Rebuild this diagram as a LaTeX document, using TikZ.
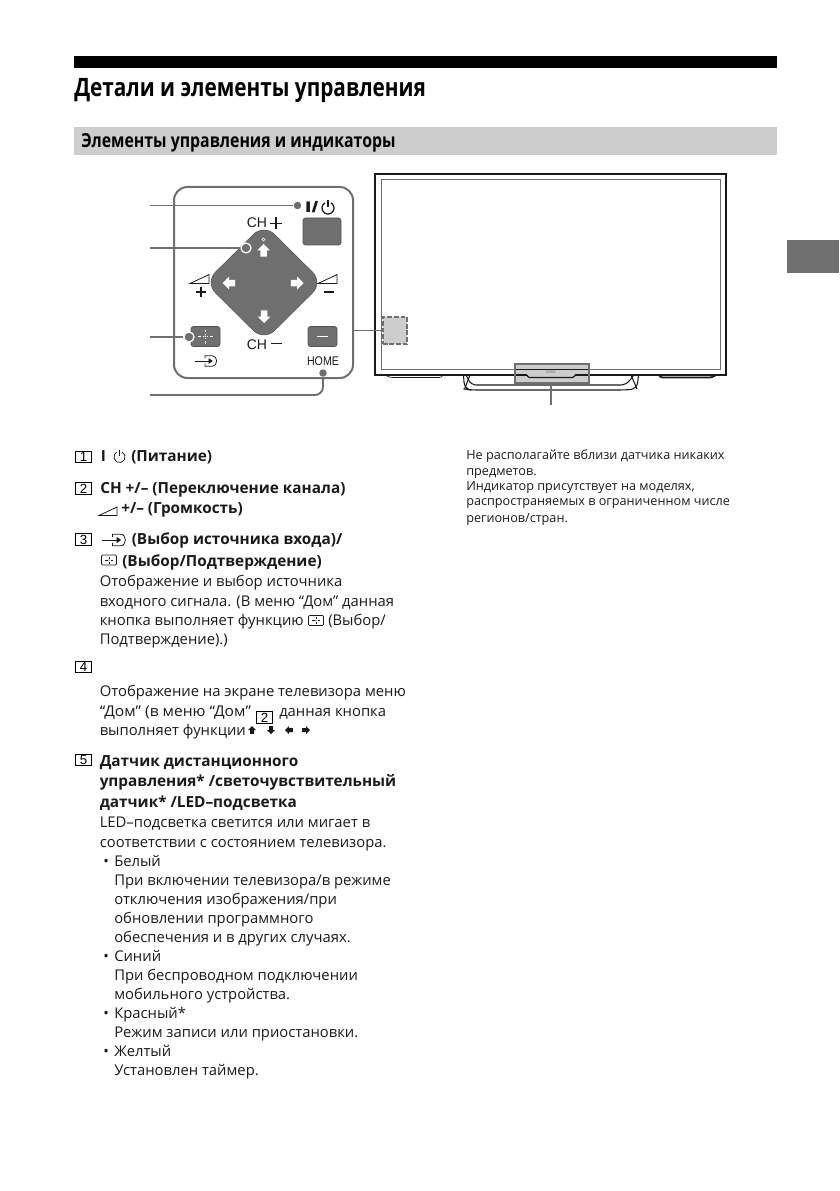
\documentclass[tikz,border=0pt]{standalone}
\usepackage{fontspec}
\usepackage{graphicx}
\setmainfont{Open Sans}
\newfontfamily\titlef[FakeStretch=0.82]{Open Sans}
\newfontfamily\secf[FakeStretch=0.82]{Open Sans}
\newfontfamily\lab{Liberation Sans}
\definecolor{pg}{HTML}{6F6F6F}
\definecolor{lg}{HTML}{CDCDCD}
\definecolor{ink}{HTML}{1A1A1A}
\tikzset{
  txt/.style={inner sep=0pt,anchor=base west,text=ink,font=\fontsize{11.1}{12}\selectfont},
  btxt/.style={txt,font=\fontsize{11.5}{12}\selectfont\bfseries},
  note/.style={txt,font=\fontsize{9.5}{11}\selectfont},
  numbox/.style={draw=black,line width=.8pt,minimum width=15.5*.75pt,minimum height=11.5*.75pt,inner sep=0pt,font=\lab\fontsize{10}{10}\selectfont,text=black},
  lead/.style={draw=pg,line width=1.4pt},
  dot/.style={circle,fill=pg,inner sep=0pt,minimum size=7.5*.75pt},
  ringdot/.style={circle,fill=pg,draw=white,line width=.9pt,inner sep=0pt,minimum size=10*.75pt},
  gbtn/.style={draw=ink!75,fill=pg,line width=.6pt,rounded corners=2pt,inner sep=0pt},
  lbl/.style={inner sep=0pt,font=\lab\fontsize{10.2}{11}\selectfont,text=ink},
}
\newcommand\T[5][txt]{\node[#1] (#2) at (#3,#4) {#5};}
% x, y, direction dx, direction dy, half size, colour
\newcommand\fatarrow[6]{\fill[#6] ({#1+#5*(#3)},{#2+#5*(#4)}) -- ({#1-#5*(#4)},{#2+#5*(#3)}) -- ({#1-.5*#5*(#4)},{#2+.5*#5*(#3)}) -- ({#1-.5*#5*(#4)-.95*#5*(#3)},{#2+.5*#5*(#3)-.95*#5*(#4)}) -- ({#1+.5*#5*(#4)-.95*#5*(#3)},{#2-.5*#5*(#3)-.95*#5*(#4)}) -- ({#1+.5*#5*(#4)},{#2-.5*#5*(#3)}) -- ({#1+#5*(#4)},{#2-#5*(#3)}) -- cycle;}
\newcommand\powericon[4]{\draw[ink,line width=#4,shift={(#1,#2)}] (.5*#3,-.866*#3) arc[start angle=60,end angle=-240,radius=#3*.75pt]; \draw[ink,line width=#4,shift={(#1,#2)}] (0,-1.3*#3) -- (0,-.1*#3);}
\newcommand\inputicon[3]{\begin{scope}[shift={(#1,#2)},scale=#3,ink,line width=.6pt]
  \draw (-3.5,-2.5) -- (-3.5,-5) -- (3.5,-5) .. controls (9,-5) and (9,5) .. (3.5,5) -- (-3.5,5) -- (-3.5,2.5);
  \draw (-13,0) -- (1,0);
  \fill (4,0) -- (0,-2.8) -- (0,2.8) -- cycle;
\end{scope}}
\newcommand\plusicon[2]{\begin{scope}[shift={(#1,#2)}]
  \draw[ink,line width=.5pt,rounded corners=.8pt] (-7.5,-5) rectangle (7.5,5);
  \draw[ink,line width=.45pt] (-4,0) -- (-1.5,0) (1.5,0) -- (4,0) (0,-3.5) -- (0,-1.5) (0,1.5) -- (0,3.5);
  \fill[ink] (0,0) circle[radius=.7*.75pt];
\end{scope}}
\newcommand\volicon[4]{\draw[#4,line width=.6pt] (#1,#2) -- ++(#3,-.47*#3) -- ++(0,.47*#3) -- cycle;}
\begin{document}
\begin{tikzpicture}[x=.75pt,y=-.75pt]
\useasboundingbox (0,0) rectangle (839,1191);
% page furniture
\fill[black] (74,56) rectangle (777,68);
\fill[lg] (74,127) rectangle (777,155);
\fill[pg] (787,240) rectangle (839,273);
\T[txt,font=\titlef\fontsize{19}{20}\selectfont\bfseries,text=black]{title}{74}{96.5}{Детали и элементы управления}
\T[txt,font=\secf\fontsize{14.5}{15}\selectfont\bfseries,text=black]{section}{81}{147.5}{Элементы управления и индикаторы}

% TV
\draw[ink,line width=1.3pt] (375,174) rectangle (726,375);
\draw[pg,line width=.8pt] (381.3,179.3) rectangle (720.7,369.3);
\draw[ink,line width=.8pt,rounded corners=5pt] (463.5,375) -- (464.5,389) -- (470,390) -- (625,390) -- (637,389) -- (638.5,375);
\draw[ink,line width=.8pt,rounded corners=4pt] (466,375) -- (471,385) -- (626,385) -- (634,375);
\draw[ink,line width=.8pt] (470,375) -- (464.5,389) (631,375) -- (637,389);
\draw[ink,line width=1.3pt,rounded corners=2pt] (659,375) -- (660,377.5) -- (712,377.5) -- (716,375);
\draw[ink,line width=.5pt,rounded corners=2pt] (385,375) -- (390,377.5) -- (442,377.5) -- (443,375);
\node[draw=pg,fill=lg,line width=1.6pt,minimum width=74*.75pt,minimum height=19*.75pt,inner sep=0pt] (logobox) at (552,373.5) {};
\draw[ink,line width=.8pt] (516,369.3) -- (588,369.3) (516,375) -- (527,375) (575,375) -- (588,375);
\draw[ink,line width=.9pt,rounded corners=1pt] (527,375) -- (528,377.5) -- (574,377.5) -- (575,375);
\node[inner sep=0pt,font=\lab\fontsize{2.6}{3}\selectfont\bfseries,text=black!50] (sony) at (551,372.7) {SONY};
\coordinate (logoend) at (551,405);
\draw[lead] (logobox.south -| logoend) -- (logoend);

\node[draw=pg,dashed,dash pattern=on 3.6pt off 1.4pt,fill=lg,line width=1.6pt,minimum width=24.5*.75pt,minimum height=27*.75pt,inner sep=0pt] (sensor) at (395,330.5) {};

% control panel
\node[draw=pg,line width=1.5pt,rounded corners=10pt,minimum width=179*.75pt,minimum height=191*.75pt,inner sep=0pt] (panel) at (263.5,282.5) {};
\draw[lead] (panel.east |- sensor.west) -- (sensor.west);

% power
\node[lbl,font=\lab\fontsize{11.5}{12}\selectfont\bfseries,anchor=base west] (powerlabel) at (304.5,213) {\scalebox{1.6}[1]{I/}};
\powericon{328}{208}{6}{.95pt}
\node[gbtn,minimum width=38*.75pt,minimum height=27*.75pt] (powerbtn) at (322,231.5) {};

% D-pad
\fill[pg,draw=ink!75,line width=.4pt,rounded corners=11pt] (264,224) -- (323,282.5) -- (264,341) -- (205,282.5) -- cycle;
\node[lbl,anchor=base west,font=\lab\fontsize{10.5}{11}\selectfont] (chp) at (246.5,228) {CH};
\node[lbl,anchor=base west,font=\lab\fontsize{10.5}{11}\selectfont] (chm) at (246.5,349) {CH};
\draw[ink,line width=1.1pt] (270,223.5) -- (282,223.5) (276,217.5) -- (276,229.5);
\draw[ink,line width=1.1pt] (271,343.7) -- (282,343.7);
\draw[white,line width=.4pt] (263.5,239.5) circle[radius=1.5*.75pt];
\fatarrow{263.5}{250.5}{0}{-1}{6.5}{white}
\fatarrow{264}{316.5}{0}{1}{6.5}{white}
\fatarrow{229}{283}{-1}{0}{6.5}{white}
\fatarrow{297}{283}{1}{0}{6.5}{white}
\volicon{190}{283.5}{19}{ink}
\volicon{318}{283.5}{19}{ink}
\draw[ink,line width=1.1pt] (196,292) -- (206,292) (201,287) -- (201,297);
\draw[ink,line width=1.1pt] (324,292) -- (334,292);

% buttons
\node[gbtn,minimum width=29*.75pt,minimum height=20*.75pt] (selbtn) at (205.5,336.5) {};
\draw[white,line width=.55pt] (198,336.5) -- (201,336.5) (203,336.5) -- (204,336.5) (207,336.5) -- (208,336.5) (210,336.5) -- (213,336.5) (205.5,329.5) -- (205.5,332) (205.5,334) -- (205.5,335) (205.5,338) -- (205.5,339) (205.5,341) -- (205.5,343.5);
\fill[white] (205.5,336.5) circle[radius=.9*.75pt];
\node[gbtn,minimum width=29*.75pt,minimum height=20*.75pt] (homebtn) at (322.5,336.5) {};
\draw[white,line width=.5pt] (317,336.5) -- (328,336.5);
\inputicon{208.6}{361}{1.05}
\node[lbl,font=\lab\fontsize{9.4}{10}\selectfont] (home) at (323,361.5) {\scalebox{.85}[1]{HOME}};

% leaders
\coordinate (a1) at (150,205.5);
\coordinate (a2) at (150,248);
\coordinate (a3) at (150,337);
\coordinate (a4) at (150,395);
\node[dot] (d1) at (297.5,205.5) {};
\node[ringdot] (d2) at (246,248) {};
\node[ringdot] (d3) at (189,337) {};
\node[dot] (d4) at (323,373) {};
\draw[lead] (a1) -- (d1);
\draw[lead] (a2) -- (d2.west);
\draw[lead] (a3) -- (d3.west);
\draw[lead,rounded corners=6pt] (a4) -- (d4 |- a4) -- (d4);

% item 1
\node[numbox] (n1) at (83.5,457.2) {1};
\node[btxt] (i1a) at (100.5,461) {I};
\powericon{119.5}{457}{5.6}{.55pt}
\T[btxt]{i1b}{131}{461}{(Питание)}
% item 2
\node[numbox] (n2) at (83.5,488.7) {2};
\T[btxt]{i2a}{100}{493}{CH +/– (Переключение канала)}
\volicon{99}{515.5}{18}{ink}
\T[btxt]{i2b}{121}{513}{+/– (Громкость)}
% item 3
\node[numbox] (n3) at (83.5,539.7) {3};
\inputicon{116.6}{540}{1.15}
\T[btxt]{i3a}{131.5}{544}{(Выбор источника входа)/}
\plusicon{109}{560}
\T[btxt]{i3b}{122}{566}{(Выбор/Подтверждение)}
\T{i3c}{99.5}{586.5}{Отображение и выбор источника}
\T{i3d}{99.5}{606}{входного сигнала. (В меню “Дом” данная}
\T{i3e}{99.5}{625}{кнопка выполняет функцию}
\plusicon{316}{620.5}
\T{i3f}{328}{625}{(Выбор/}
\T{i3g}{99.5}{644.5}{Подтверждение).)}
% item 4
\node[numbox] (n4) at (83.5,667.2) {4};
\T{i4a}{99.5}{696.5}{Отображение на экране телевизора меню}
\T{i4b}{99.5}{716}{\scalebox{1.05}[1]{“Дом” (в меню “Дом”}}
\node[numbox] (n2b) at (264.5,717.5) {2};
\T{i4c}{279}{716}{данная кнопка}
\T{i4d}{99.5}{735.5}{выполняет функции}
\fatarrow{252}{730}{0}{-1}{4}{ink}
\fatarrow{271}{730}{0}{1}{4}{ink}
\fatarrow{289}{730}{-1}{0}{4}{ink}
\fatarrow{306}{730}{1}{0}{4}{ink}
% item 5
\node[numbox] (n5) at (83.5,760) {5};
\T[btxt]{i5a}{99.5}{766}{Датчик дистанционного}
\T[btxt]{i5b}{99.5}{786}{управления* /светочувствительный}
\T[btxt]{i5c}{99.5}{807}{датчик* /LED–подсветка}
\T{i5d}{99.5}{827}{LED–подсветка светится или мигает в}
\T{i5e}{99.5}{847}{соответствии с состоянием телевизора.}
\T{b1}{103}{866}{•}
\T{i5f}{114}{866}{Белый}
\T{i5g}{114}{885}{При включении телевизора/в режиме}
\T{i5h}{114}{904}{отключения изображения/при}
\T{i5i}{114}{923}{обновлении программного}
\T{i5j}{114}{942}{обеспечения и в других случаях.}
\T{b2}{103}{961}{•}
\T{i5k}{114}{961}{Синий}
\T{i5l}{114}{980}{При беспроводном подключении}
\T{i5m}{114}{999}{мобильного устройства.}
\T{b3}{103}{1018}{•}
\T{i5n}{114}{1018}{Красный*}
\T{i5o}{114}{1037}{Режим записи или приостановки.}
\T{b4}{103}{1056}{•}
\T{i5p}{114}{1056}{Желтый}
\T{i5q}{114}{1075}{Установлен таймер.}
% note column
\T[note]{f1}{466}{459}{Не располагайте вблизи датчика никаких}
\T[note]{f2}{466}{475}{предметов.}
\T[note]{f3}{466}{490}{Индикатор присутствует на моделях,}
\T[note]{f4}{466}{505}{распространяемых в ограниченном числе}
\T[note]{f5}{466}{522}{регионов/стран.}
\end{tikzpicture}
\end{document}
